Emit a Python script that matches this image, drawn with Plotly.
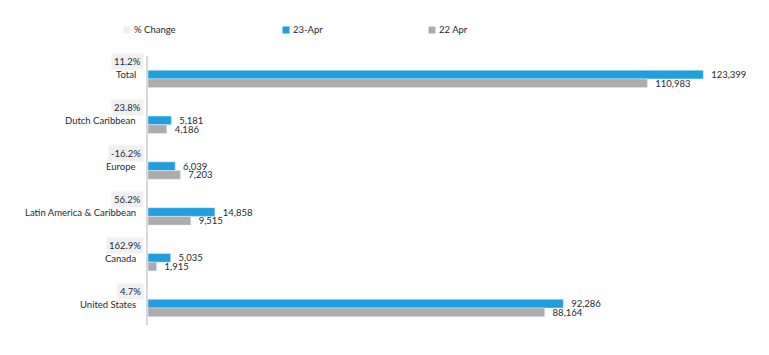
import plotly.graph_objects as go

categories = ["Total", "Dutch Caribbean", "Europe", "Latin America & Caribbean", "Canada", "United States"]
apr23 = [123399, 5181, 6039, 14858, 5035, 92286]
apr22 = [110983, 4186, 7203, 9515, 1915, 88164]
pct_change = ["11.2%", "23.8%", "-16.2%", "56.2%", "162.9%", "4.7%"]
legend_names = ["% Change", "23-Apr", "22 Apr"]

BLUE = "#1f9fde"
GRAY = "#aeabab"
LIGHT = "#efefef"
TXT = "#222a35"
FONT = "Lato"
FS = 9.5
PAD = "\u00a0\u00a0"

fig = go.Figure()
fig.add_trace(go.Bar(
    y=categories, x=apr23, orientation="h", name=legend_names[1],
    marker=dict(color=BLUE), showlegend=False,
    texttemplate=PAD + "%{x:,}", textposition="outside", constraintext="none",
    textfont=dict(size=FS, color=TXT, family=FONT), cliponaxis=False,
))
fig.add_trace(go.Bar(
    y=categories, x=apr22, orientation="h", name=legend_names[2],
    marker=dict(color=GRAY), showlegend=False,
    texttemplate=PAD + "%{x:,}", textposition="outside", constraintext="none",
    textfont=dict(size=FS, color=TXT, family=FONT), cliponaxis=False,
))

annotations = []
shapes = []
for cat, pc in zip(categories, pct_change):
    annotations.append(dict(
        x=0, y=cat, xref="x", yref="y", text=cat, showarrow=False,
        xanchor="right", yanchor="middle", xshift=-10, yshift=4,
        font=dict(size=FS, color=TXT, family=FONT),
    ))
    annotations.append(dict(
        x=0, y=cat, xref="x", yref="y", text=pc, showarrow=False,
        xanchor="right", yanchor="middle", xshift=-4, yshift=17,
        bgcolor="#f0f0f0", borderpad=2,
        font=dict(size=FS, color=TXT, family=FONT),
    ))

# legend built from shapes + text
legend_x = [127, 286, 432]
legend_cols = [LIGHT, BLUE, GRAY]
for name, col, lx in zip(legend_names, legend_cols, legend_x):
    shapes.append(dict(
        type="rect", xref="paper", yref="paper",
        x0=(lx - 3.5 - 148) / 612, x1=(lx + 3.5 - 148) / 612,
        y0=(355 - 30 - 30 - 3.5) / 269, y1=(355 - 30 - 30 + 3.5) / 269,
        fillcolor=col, line=dict(width=0),
    ))
    annotations.append(dict(
        x=(lx + 5 - 148) / 612, y=(355 - 30 - 30) / 269, xref="paper", yref="paper",
        text=name, showarrow=False, xanchor="left", yanchor="middle",
        font=dict(size=FS, color=TXT, family=FONT),
    ))

fig.update_layout(
    width=769, height=355,
    margin=dict(l=148, r=9, t=56, b=30),
    paper_bgcolor="white", plot_bgcolor="white",
    barmode="group", bargap=0.62, bargroupgap=0.0,
    font=dict(family=FONT, size=FS, color=TXT),
    showlegend=False,
    xaxis=dict(range=[0, 136000], visible=False, showgrid=False, zeroline=False),
    yaxis=dict(
        categoryorder="array", categoryarray=categories, range=[5.37, -0.5],
        showticklabels=False, showgrid=False, zeroline=False,
        showline=True, linecolor="#d9d9d9", linewidth=2, ticks="",
    ),
    annotations=annotations,
    shapes=shapes,
)

fig.write_html("out.html")
